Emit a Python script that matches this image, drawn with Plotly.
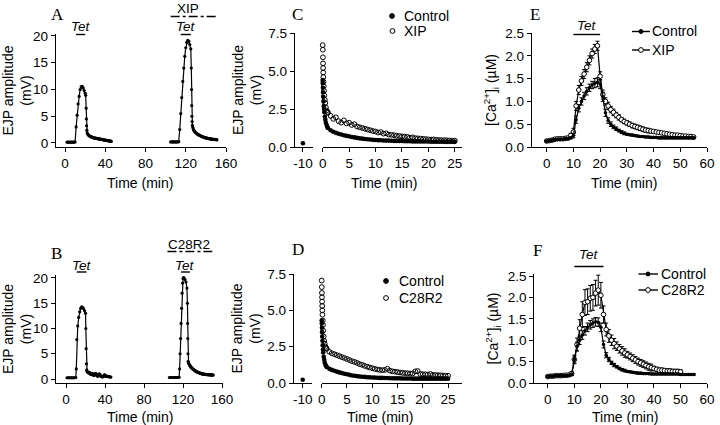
import plotly.graph_objects as go

# ---------------- data ----------------
# Panel A (EJP amplitude, mV) - control tetanus and tetanus in XIP
A1_t = [2,3,4,5,6,7,8,9,10,11,12,13,14,15,16,17,18,19,20,20.5,21,21.2,21.4,21.7,
        22,22.5,23,23.5,24,24.5,25,25.5,26,26.5,27,27.5,28,28.5,29,29.5,30,30.5,31,31.5,
        32,32.5,33,33.5,34,34.5,35,35.5,36,36.5,37,37.5,38,38.5,39,39.5,40,40.5,41,41.5,
        42,42.5,43,43.5,44,44.5,45,45.5,46]
A1_v = [0.15,0.15,0.15,0.15,0.15,0.15,0.15,0.15,0.2,
        3.0,5.2,7.3,8.7,10.0,10.5,10.6,10.3,9.8,9.3,
        8.9,6.5,4.5,3.2,2.4,
        1.9,1.7,1.55,1.45,1.35,1.3,1.25,1.2,1.15,1.1,1.08,1.05,1.0,0.98,0.95,0.93,0.9,0.88,
        0.86,0.85,0.83,0.8,0.78,0.77,0.75,0.73,0.72,0.7,0.68,0.66,0.65,0.63,0.6,0.58,0.56,
        0.55,0.53,0.5,0.48,0.47,0.45,0.43,0.42,0.4,0.38,0.36,0.35,0.33,0.32]
A2_t = [105,106,107,108,109,110,111,112,113,114,115,116,117,118,119,120,121,122,123,124,125,
        125.5,125.7,125.9,126.1,126.3,126.6,
        127,127.5,128,128.5,129,129.5,130,130.5,131,131.5,132,132.5,133,133.5,134,134.5,135,
        135.5,136,136.5,137,137.5,138,138.5,139,139.5,140,140.5,141,141.5,142,142.5,143,143.5,
        144,144.5,145,145.5,146,146.5,147,147.5,148,148.5,149,149.5,150,150.5,151]
A2_v = [0.2,0.2,0.2,0.2,0.2,0.2,0.2,0.2,0.25,
        2.5,5.5,8.5,11.5,14.0,16.2,17.8,18.8,19.2,19.0,18.4,17.6,
        14.0,10.0,7.0,5.0,4.0,3.3,
        2.9,2.6,2.4,2.25,2.1,2.0,1.9,1.82,1.75,1.68,1.6,1.55,1.5,1.45,1.4,1.35,1.3,1.26,1.22,
        1.18,1.14,1.1,1.06,1.03,1.0,0.98,0.95,0.92,0.9,0.88,0.86,0.84,0.82,0.8,0.78,0.76,0.75,
        0.73,0.72,0.7,0.69,0.68,0.67,0.66,0.65,0.64,0.63,0.62,0.6]

# Panel B - control tetanus and tetanus in C28R2
B1_t = [1,2,3,4,5,6,7,8,9,10,10.5,11,12,13,14,15,16,17,18,19,20,20.3,20.6,20.9,21.2,21.6,
        22,22.5,23,23.5,24,24.5,25,25.5,26,26.5,27,27.5,28,28.5,29,29.5,30,30.5,31,31.5,
        32,32.5,33,33.5,34,34.5,35,35.5,36,36.5,37,37.5,38,38.5,39,39.5,40,40.5,41,41.5,
        42,42.5,43,43.5,44,44.5,45,45.5,46]
B1_v = [0.25,0.25,0.25,0.25,0.25,0.25,0.25,0.25,0.25,0.3,2.0,
        7.8,10.5,12.2,13.3,14.0,14.3,14.2,13.9,13.5,13.0,
        10.0,6.0,3.0,1.8,1.5,
        1.4,1.3,1.2,1.25,1.3,1.1,1.0,0.9,0.85,1.0,1.1,0.9,0.8,0.7,0.75,0.9,1.05,1.1,0.9,0.75,
        0.6,0.55,0.65,0.8,1.0,0.9,0.8,0.6,0.5,0.45,0.55,0.4,0.45,0.6,0.7,0.8,0.75,0.6,0.55,
        0.5,0.6,0.55,0.5,0.45,0.5,0.45,0.4,0.4,0.4]
B2_t = [106,107,108,109,110,111,112,113,114,115,116,
        116.5,117,117.5,118,118.5,119,119.5,120,120.5,121,122,123,124,
        124.5,124.7,124.9,125.1,125.3,125.6,
        126,126.5,127,127.5,128,128.5,129,129.5,130,130.5,131,131.5,132,132.5,133,133.5,134,
        134.5,135,135.5,136,136.5,137,137.5,138,138.5,139,139.5,140,140.5,141,141.5,142,142.5,
        143,143.5,144,144.5,145,145.5,146,146.5,147,147.5,148,148.5,149,149.5,150,150.5,151]
B2_v = [0.3,0.3,0.3,0.3,0.3,0.3,0.3,0.3,0.3,0.3,0.35,
        2.0,5.0,8.0,11.0,14.0,17.0,19.0,19.9,20.1,20.0,19.7,19.2,18.0,
        15.0,11.0,8.0,5.0,3.5,3.2,
        3.0,2.85,2.7,2.55,2.4,2.3,2.2,2.1,2.0,1.92,1.85,1.78,1.7,1.62,1.55,1.5,1.45,1.4,1.35,
        1.3,1.27,1.23,1.2,1.15,1.1,1.08,1.05,1.02,1.0,0.98,0.96,0.95,0.93,0.92,0.9,0.9,0.88,
        0.87,0.86,0.85,0.85,0.84,0.83,0.82,0.82,0.81,0.8,0.8,0.8,0.79,0.78]

# tetanus / drug application periods (min)
TET_A = [(11, 20), (115, 125)]
XIP_A = (105, 151)
TET_B = [(11, 21), (118, 127)]
C28_B = (104, 150)

# Panels C, D - post-tetanic decay (min)
PRE_T = [-10]
C_ctrl_pre = [0.25]
D_ctrl_pre = [0.22]
T_LATE = [1,1.5,2,2.5,3,3.5,4,4.5,5,5.5,6,6.5,7,7.5,8,8.5,9,9.5,10,10.5,11,11.5,12,12.5,
          13,13.5,14,14.5,15,15.5,16,16.5,17,17.5,18,18.5,19,19.5,20,20.5,21,21.5,22,22.5,
          23,23.5,24,24.5,25]
T_EARLY_CTRL = [0,0.02,0.05,0.08,0.1,0.15,0.2,0.25,0.3,0.4,0.5,0.6,0.75,0.9]
T_EARLY_DRUG = [0,0.02,0.04,0.06,0.08,0.1,0.12,0.15,0.2,0.25,0.3,0.4,0.5,0.6,0.75,0.9]

C_ctrl = [4.4,4.2,3.9,3.6,3.3,3.0,2.7,2.5,2.3,2.0,1.8,1.6,1.45,1.3,
          1.25,1.1,1.0,0.93,0.87,0.82,0.77,0.73,0.7,0.66,0.63,0.6,0.57,0.55,0.53,0.51,0.49,
          0.47,0.46,0.45,0.44,0.43,0.42,0.42,0.41,0.4,0.4,0.39,0.39,0.38,0.38,0.38,0.37,0.37,
          0.37,0.36,0.36,0.36,0.36,0.35,0.35,0.35,0.35,0.35,0.34,0.34,0.34,0.34,0.34]
C_xip = [6.7,6.4,5.9,5.5,5.2,4.9,4.6,4.3,4.0,3.7,3.4,3.1,2.9,2.6,2.4,2.3,
         2.25,2.05,1.85,1.95,1.7,1.6,1.75,1.55,1.6,1.45,1.5,1.35,1.3,1.25,1.2,1.15,1.1,1.05,
         1.02,0.95,0.98,0.88,0.9,0.82,0.8,0.78,0.74,0.72,0.7,0.68,0.66,0.62,0.63,0.58,0.57,
         0.55,0.53,0.52,0.5,0.49,0.5,0.47,0.46,0.45,0.45,0.44,0.43,0.42,0.42]
D_ctrl = [4.3,4.1,3.8,3.5,3.2,2.9,2.6,2.3,2.1,1.8,1.6,1.4,1.25,1.15,
          1.1,0.98,0.9,0.84,0.78,0.73,0.68,0.64,0.6,0.56,0.52,0.5,0.47,0.45,0.43,0.42,0.4,
          0.39,0.38,0.37,0.36,0.35,0.35,0.34,0.34,0.33,0.33,0.32,0.32,0.32,0.31,0.31,0.31,
          0.31,0.3,0.3,0.3,0.3,0.3,0.3,0.3,0.3,0.3,0.3,0.3,0.3,0.3,0.3,0.3]
D_c28 = [7.05,6.6,6.2,5.9,5.6,5.3,5.0,4.7,4.3,4.0,3.6,3.2,2.9,2.7,2.5,2.4,
         2.35,2.15,2.05,1.98,1.92,1.85,1.78,1.72,1.65,1.58,1.5,1.45,1.38,1.3,1.25,1.18,1.12,
         1.07,1.02,0.97,0.93,0.9,0.88,0.9,0.98,0.85,0.8,0.78,0.75,0.72,0.7,0.68,0.67,0.65,
         0.66,0.8,0.82,0.62,0.6,0.6,0.58,0.62,0.56,0.55,0.54,0.53,0.52,0.5,0.5]

# Panels E, F - [Ca2+]i (uM) vs time (min), mean and SEM
E_t = list(range(0, 56))
E_ctrl = [0.13,0.14,0.15,0.16,0.17,0.17,0.17,0.18,0.18,0.2,
          0.25,0.6,0.85,1.0,1.12,1.22,1.3,1.36,1.4,1.42,
          1.38,1.1,0.75,0.58,0.5,0.44,0.4,0.36,0.33,0.3,
          0.28,0.27,0.26,0.25,0.24,0.23,0.23,0.22,0.22,0.21,
          0.21,0.21,0.2,0.2,0.2,0.2,0.2,0.2,0.2,0.2,
          0.2,0.2,0.2,0.2,0.2,0.2]
E_ctrl_err = [0.02,0.02,0.02,0.02,0.02,0.02,0.02,0.02,0.02,0.02,
              0.05,0.08,0.08,0.08,0.08,0.08,0.08,0.08,0.1,0.1,
              0.1,0.1,0.08,0.06,0.05,0.04,0.04,0.03,0.03,0.03,
              0.02,0.02,0.02,0.02,0.02,0.02,0.02,0.02,0.02,0.02,
              0.02,0.02,0.02,0.02,0.02,0.02,0.02,0.02,0.02,0.02,
              0.02,0.02,0.02,0.02,0.02,0.02]
E_xip = [0.13,0.14,0.15,0.17,0.18,0.18,0.18,0.19,0.2,0.25,
         0.33,0.9,1.25,1.45,1.6,1.75,1.9,2.05,2.15,2.22,
         1.55,1.15,1.0,0.9,0.82,0.76,0.7,0.65,0.6,0.56,
         0.53,0.5,0.47,0.45,0.43,0.41,0.39,0.37,0.36,0.35,
         0.34,0.33,0.32,0.31,0.3,0.29,0.28,0.27,0.26,0.26,
         0.25,0.24,0.24,0.23,0.23,0.22]
E_xip_err = [0.02,0.02,0.02,0.02,0.02,0.02,0.02,0.02,0.02,0.05,
             0.08,0.1,0.1,0.1,0.1,0.1,0.1,0.1,0.1,0.1,
             0.1,0.1,0.08,0.08,0.07,0.07,0.06,0.06,0.05,0.05,
             0.05,0.05,0.05,0.05,0.05,0.05,0.05,0.05,0.05,0.04,
             0.03,0.03,0.03,0.03,0.03,0.03,0.03,0.03,0.03,0.03,
             0.03,0.03,0.03,0.03,0.03,0.03]
F_t = list(range(0, 56))
F_ctrl = [0.15,0.16,0.16,0.17,0.17,0.17,0.17,0.17,0.18,0.2,
          0.55,0.85,1.0,1.12,1.22,1.3,1.36,1.4,1.43,1.42,
          1.3,0.9,0.65,0.55,0.47,0.42,0.38,0.34,0.31,0.29,
          0.27,0.26,0.25,0.24,0.23,0.23,0.22,0.22,0.22,0.21,
          0.21,0.21,0.21,0.21,0.21,0.21,0.21,0.21,0.21,0.21,
          0.2,0.2,0.2,0.2,0.2,0.2]
F_ctrl_err = [0.02,0.02,0.02,0.02,0.02,0.02,0.02,0.02,0.02,0.02,
              0.08,0.1,0.1,0.1,0.1,0.1,0.1,0.1,0.1,0.1,
              0.1,0.08,0.06,0.05,0.04,0.04,0.03,0.03,0.03,0.03,
              0.02,0.02,0.02,0.02,0.02,0.02,0.02,0.02,0.02,0.02,
              0.02,0.02,0.02,0.02,0.02,0.02,0.02,0.02,0.02,0.02,
              0.02,0.02,0.02,0.02,0.02,0.02]
F_c28_t = list(range(0, 51))
F_c28 = [0.15,0.16,0.16,0.17,0.17,0.17,0.18,0.18,0.19,0.22,
         0.55,0.9,1.28,1.6,1.88,1.9,1.98,2.0,2.1,2.17,
         2.05,1.6,1.25,1.1,1.0,0.92,0.86,0.8,0.75,0.7,
         0.66,0.62,0.58,0.54,0.5,0.47,0.44,0.41,0.38,0.36,
         0.34,0.32,0.3,0.3,0.29,0.28,0.28,0.27,0.27,0.27,
         0.26]
F_c28_err = [0.02,0.02,0.02,0.02,0.02,0.02,0.02,0.02,0.02,0.05,
             0.1,0.15,0.2,0.3,0.3,0.3,0.3,0.3,0.3,0.35,
             0.3,0.2,0.15,0.15,0.12,0.12,0.1,0.1,0.1,0.1,
             0.08,0.08,0.08,0.08,0.08,0.08,0.08,0.08,0.08,0.08,
             0.05,0.05,0.05,0.05,0.05,0.05,0.05,0.05,0.05,0.05,
             0.05]
TET_E = (10, 20)
TET_F = (10, 21)

# ---------------- figure ----------------
W, H = 720, 425
FONT = "Arial, 'Liberation Sans', sans-serif"
SERIF = "'Times New Roman', 'Liberation Serif', serif"
TICK = 13.5
BLACK = "black"
EJP_TITLE = "EJP amplitude<br>(mV)"
CA_TITLE = "[Ca<sup>2+</sup>]<sub>i</sub> (µM)"


def px(x):
    return x / W


def py(y):
    return 1 - y / H


fig = go.Figure()


def line_trace(t, v, xa, ya):
    fig.add_trace(go.Scatter(x=t, y=v, xaxis=xa, yaxis=ya, mode="lines+markers",
                             line=dict(color=BLACK, width=1.2),
                             marker=dict(color=BLACK, size=3.2),
                             showlegend=False, cliponaxis=False))


line_trace(A1_t, A1_v, "x", "y")
line_trace(A2_t, A2_v, "x", "y")
line_trace(B1_t, B1_v, "x2", "y2")
line_trace(B2_t, B2_v, "x2", "y2")


def dots(t, v, xa, ya, filled):
    if filled:
        mk = dict(symbol="circle", color=BLACK, size=4.6, line=dict(width=0))
    else:
        mk = dict(symbol="circle-open", color=BLACK, size=4.8, line=dict(width=1))
    fig.add_trace(go.Scatter(x=t, y=v, xaxis=xa, yaxis=ya, mode="markers", marker=mk,
                             showlegend=False, cliponaxis=False))


# C
dots(PRE_T, C_ctrl_pre, "x3", "y3", True)
dots(T_EARLY_DRUG + T_LATE, C_xip, "x4", "y3", False)
dots(T_EARLY_CTRL + T_LATE, C_ctrl, "x4", "y3", True)
# D
dots(PRE_T, D_ctrl_pre, "x5", "y4", True)
dots(T_EARLY_DRUG + T_LATE, D_c28, "x6", "y4", False)
dots(T_EARLY_CTRL + T_LATE, D_ctrl, "x6", "y4", True)


def ca_trace(t, v, err, xa, ya, filled):
    if filled:
        mk = dict(symbol="circle", color=BLACK, size=3.6)
    else:
        mk = dict(symbol="circle", color="white", size=4.6, line=dict(color=BLACK, width=1))
    fig.add_trace(go.Scatter(x=t, y=v, xaxis=xa, yaxis=ya, mode="lines+markers",
                             line=dict(color=BLACK, width=1.2), marker=mk,
                             error_y=dict(type="data", array=err, visible=True,
                                          color=BLACK, thickness=1, width=2),
                             showlegend=False, cliponaxis=False))


ca_trace(E_t, E_xip, E_xip_err, "x7", "y5", False)
ca_trace(E_t, E_ctrl, E_ctrl_err, "x7", "y5", True)
ca_trace(F_c28_t, F_c28, F_c28_err, "x8", "y6", False)
ca_trace(F_t, F_ctrl, F_ctrl_err, "x8", "y6", True)

axis_style = dict(showline=True, linecolor=BLACK, linewidth=1.3, ticks="outside",
                  ticklen=4, tickwidth=1.3, tickcolor=BLACK, showgrid=False,
                  zeroline=False, tickfont=dict(family=FONT, size=TICK, color=BLACK),
                  fixedrange=True, automargin=False)


def ax(**kw):
    d = dict(axis_style)
    d.update(kw)
    return d


def ytitle(s, standoff):
    return dict(text=s, font=dict(family=FONT, size=14, color=BLACK), standoff=standoff)


row1 = [py(147), py(33)]
row2 = [py(383), py(274)]
lay = dict(
    xaxis=ax(domain=[px(56), px(226)], range=[-9, 160], tickvals=[0, 40, 80, 120, 160], anchor="y"),
    yaxis=ax(domain=[py(147), py(34)], range=[-0.75, 20.37], tickvals=[0, 5, 10, 15, 20], anchor="x",
             title=ytitle(EJP_TITLE, 3)),
    xaxis2=ax(domain=[px(56), px(223)], range=[-10.3, 161], tickvals=[0, 40, 80, 120, 160], anchor="y2"),
    yaxis2=ax(domain=[py(383), py(275)], range=[-0.79, 20.59], tickvals=[0, 5, 10, 15, 20], anchor="x2",
              title=ytitle(EJP_TITLE, 3)),
    xaxis3=ax(domain=[px(295), px(313)], range=[-11.5, -8.1], tickvals=[-10], ticktext=["-10"], anchor="y3"),
    xaxis4=ax(domain=[px(322.7), px(461.7)], range=[0, 26.3], tickvals=[0, 5, 10, 15, 20, 25], anchor="y3"),
    yaxis3=ax(domain=row1, range=[0, 7.5], tickvals=[0, 2.5, 5, 7.5],
              ticktext=["0.0", "2.5", "5.0", "7.5"], anchor="x3", title=ytitle(EJP_TITLE, 3)),
    xaxis5=ax(domain=[px(294), px(311.7)], range=[-11.72, -8.22], tickvals=[-10], ticktext=["-10"], anchor="y4"),
    xaxis6=ax(domain=[px(321.7), px(461.7)], range=[0, 27.7], tickvals=[0, 5, 10, 15, 20, 25], anchor="y4"),
    yaxis4=ax(domain=row2, range=[0, 7.5], tickvals=[0, 2.5, 5, 7.5],
              ticktext=["0.0", "2.5", "5.0", "7.5"], anchor="x5", title=ytitle(EJP_TITLE, 3)),
    xaxis7=ax(domain=[px(532), px(707)], range=[-5.5, 60], tickvals=[0, 10, 20, 30, 40, 50, 60], anchor="y5"),
    yaxis5=ax(domain=row1, range=[0, 2.5], tickvals=[0, 0.5, 1, 1.5, 2, 2.5],
              ticktext=["0.0", "0.5", "1.0", "1.5", "2.0", "2.5"], anchor="x7", title=ytitle(CA_TITLE, 5)),
    xaxis8=ax(domain=[px(534.3), px(707)], range=[-5.1, 60], tickvals=[0, 10, 20, 30, 40, 50, 60], anchor="y6"),
    yaxis6=ax(domain=row2, range=[0, 2.547], tickvals=[0, 0.5, 1, 1.5, 2, 2.5],
              ticktext=["0.0", "0.5", "1.0", "1.5", "2.0", "2.5"], anchor="x8", title=ytitle(CA_TITLE, 5)),
)

ann = []
shapes = []


def text(x, y, s, size=13.5, family=FONT, xanchor="center"):
    ann.append(dict(x=px(x), y=py(y), xref="paper", yref="paper", text=s, showarrow=False,
                    xanchor=xanchor, yanchor="middle",
                    font=dict(family=family, size=size, color=BLACK)))


# panel letters
for lab, x, y in [("A", 57, 14), ("C", 297, 15), ("E", 535, 14),
                  ("B", 56, 253), ("D", 298, 249), ("F", 537, 250)]:
    text(x, y, lab, size=17, family=SERIF)

# x axis titles
for x, y in [(140, 183), (384, 183), (624, 183), (140, 417), (380, 417), (625, 417)]:
    text(x, y, "Time (min)", size=14)


# tetanus bars and labels
def bar(xref, t0, t1, y, dash="solid"):
    shapes.append(dict(type="line", xref=xref, yref="paper", x0=t0, x1=t1, y0=py(y), y1=py(y),
                       line=dict(color=BLACK, width=1.4, dash=dash)))


def label_over(xref, t0, t1, y, s, italic=True):
    ann.append(dict(x=(t0 + t1) / 2, y=py(y), xref=xref, yref="paper",
                    text=("<i>%s</i>" % s) if italic else s, showarrow=False,
                    xanchor="center", yanchor="middle",
                    font=dict(family=FONT, size=13.5, color=BLACK)))


for (t0, t1) in TET_A:
    bar("x", t0, t1, 34.5)
    label_over("x", t0, t1, 27, "Tet")
bar("x", XIP_A[0], XIP_A[1], 16.5, dash="dashdot")
label_over("x", 116, 128, 9, "XIP", italic=False)
for (t0, t1) in TET_B:
    bar("x2", t0, t1, 272)
    label_over("x2", t0, t1, 265, "Tet")
bar("x2", C28_B[0], C28_B[1], 251.5, dash="dashdot")
label_over("x2", 120, 132, 244, "C28R2", italic=False)
bar("x7", TET_E[0], TET_E[1], 34.5)
label_over("x7", TET_E[0], TET_E[1], 25, "Tet")
bar("x8", TET_F[0], TET_F[1], 266.5)
label_over("x8", TET_F[0], TET_F[1], 254, "Tet")


# legends drawn in paper space
def dot(x, y, filled, r=2.4):
    shapes.append(dict(type="circle", xref="paper", yref="paper", xsizemode="pixel",
                       ysizemode="pixel", xanchor=px(x), yanchor=py(y),
                       x0=-r, x1=r, y0=-r, y1=r,
                       fillcolor=BLACK if filled else "white",
                       line=dict(color=BLACK, width=1)))


def seg(x0, x1, y):
    shapes.append(dict(type="line", xref="paper", yref="paper", x0=px(x0), x1=px(x1),
                       y0=py(y), y1=py(y), line=dict(color=BLACK, width=1.4)))


dot(392, 16, True)
text(401.5, 16, "Control", size=14, xanchor="left")
dot(392.5, 31, False)
text(401.5, 31, "XIP", size=14, xanchor="left")
dot(386, 281, True)
text(396.5, 281, "Control", size=14, xanchor="left")
dot(386, 298, False)
text(396.5, 298, "C28R2", size=14, xanchor="left")
seg(632, 650, 31.5)
dot(641, 31.5, True, r=2)
text(650, 31.5, "Control", size=14, xanchor="left")
seg(632, 650, 50)
dot(641, 50, False)
text(650, 50, "XIP", size=14, xanchor="left")
seg(638.5, 658, 274)
dot(648, 274, True, r=2)
text(658.5, 274, "Control", size=14, xanchor="left")
seg(638.5, 658, 290)
dot(648, 290, False)
text(658.5, 290, "C28R2", size=14, xanchor="left")

fig.update_layout(width=W, height=H, autosize=False, margin=dict(l=0, r=0, t=0, b=0, pad=0),
                  paper_bgcolor="white", plot_bgcolor="white", showlegend=False,
                  annotations=ann, shapes=shapes, **lay)
fig.write_html("out.html", config={"displayModeBar": False},
               post_script="document.body.style.margin='0';document.body.style.overflow='hidden';")
